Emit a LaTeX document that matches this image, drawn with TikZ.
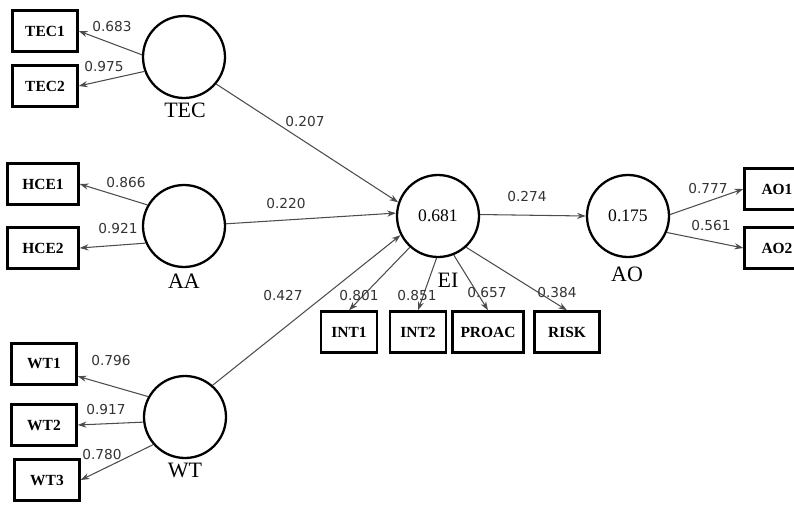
\documentclass[tikz,border=0pt]{standalone}
\usepackage{fontspec}
\setmainfont{Liberation Serif}
\newfontfamily\coeffont{DejaVu Sans}
\usetikzlibrary{arrows.meta}

\begin{document}
\begin{tikzpicture}[x=0.02cm, y=-0.02cm,
  construct/.style={circle, draw=black, line width=1.3pt, minimum size=1.64cm, inner sep=0pt, font=\fontsize{10}{12}\selectfont},
  indicator/.style={rectangle, draw=black, line width=1.4pt, minimum height=0.82cm, minimum width=1.3cm, inner xsep=4.5pt, font=\fontsize{8.8}{10}\selectfont\bfseries},
  cname/.style={font=\fontsize{12.5}{14}\selectfont, inner sep=1pt},
  coef/.style={font=\fontsize{7.8}{9}\selectfont\coeffont, text=black!80, inner sep=1pt},
  link/.style={draw=black!70, line width=0.6pt, -{Stealth[length=5pt,width=3.5pt]}}]

%─────────────
% Canvas
%─────────────
\useasboundingbox (0,0) rectangle (794,504);

%─────────────
% Constructs
%─────────────
\node[construct] (TEC) at (184,57) {};
\node[cname] (TEClab) at (185,110) {TEC};
\node[construct] (AA) at (184,226) {};
\node[cname] (AAlab) at (184,281) {AA};
\node[construct] (WT) at (185,417) {};
\node[cname] (WTlab) at (185,470) {WT};
\node[construct] (EI) at (438,216) {0.681};
\node[cname] (EIlab) at (448,280) {EI};
\node[construct] (AO) at (628,216) {0.175};
\node[cname] (AOlab) at (627,274) {AO};

%─────────────
% Indicators
%─────────────
\node[indicator] (TEC1) at (45,31) {TEC1};
\node[indicator] (TEC2) at (45,86) {TEC2};
\node[indicator, minimum width=1.42cm] (HCE1) at (43,184) {HCE1};
\node[indicator, minimum width=1.42cm] (HCE2) at (43,248) {HCE2};
\node[indicator] (WT1) at (44,364) {WT1};
\node[indicator] (WT2) at (44,425) {WT2};
\node[indicator] (WT3) at (47,480) {WT3};
\node[indicator, minimum width=1.12cm] (INT1) at (349,332) {INT1};
\node[indicator, minimum width=1.12cm] (INT2) at (418,332) {INT2};
\node[indicator] (PROAC) at (488,332) {PROAC};
\node[indicator] (RISK) at (567,332) {RISK};
\node[indicator] (AO1) at (777,189) {AO1};
\node[indicator] (AO2) at (777,248) {AO2};

%─────────────
% Outer loadings
%─────────────
\draw[link] (TEC.177) -- (TEC1.east);
\draw[link] (TEC.200) -- (TEC2.east);
\draw[link] (AA.150) -- (HCE1.east);
\draw[link] (AA.204) -- (HCE2.east);
\draw[link] (WT.151) -- (WT1.-20);
\draw[link] (WT.187) -- (WT2.east);
\draw[link] (WT.221) -- (WT3.east);
\draw[link] (EI.228) -- (INT1.north);
\draw[link] (EI.268) -- (INT2.north);
\draw[link] (EI.-68) -- (PROAC.north);
\draw[link] (EI.-48) -- (RISK.north);
\draw[link] (AO.2) -- (AO1.west);
\draw[link] (AO.-23) -- (AO2.west);

%─────────────
% Structural paths
%─────────────
\draw[link] (TEC.-40) -- (EI.161);
\draw[link] (AA.3) -- (EI.176);
\draw[link] (WT.49) -- (EI.207);
\draw[link] (EI.2) -- (AO.180);

%─────────────
% Coefficients
%─────────────
\foreach \val/\x/\y [count=\i] in {0.683/112/27, 0.975/104/67, 0.866/126/183, 0.921/118/229,
    0.796/111/361, 0.917/106/410, 0.780/102/455,
    0.801/359/296, 0.851/417/296, 0.657/487/293, 0.384/557/293,
    0.777/708/189, 0.561/711/226,
    0.207/305/122, 0.220/286/204, 0.427/283/296, 0.274/527/197} {
  \node[coef] (coef\i) at (\x,\y) {\val};
}

\end{tikzpicture}
\end{document}
